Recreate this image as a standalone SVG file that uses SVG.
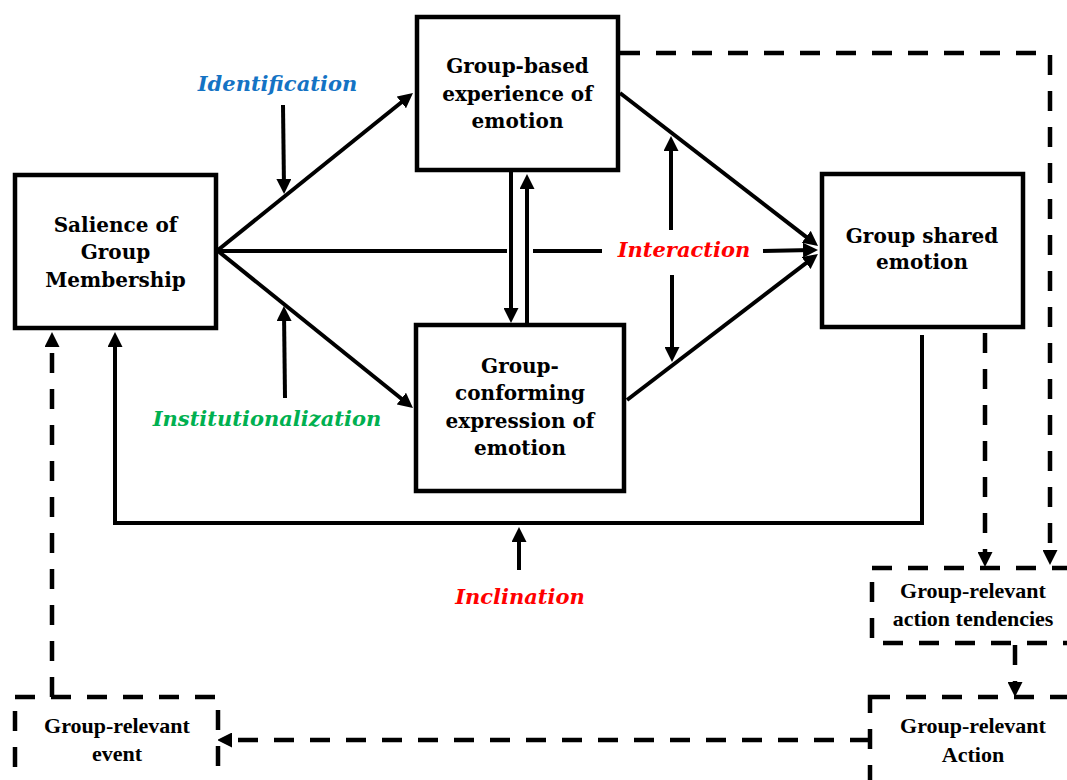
<svg xmlns="http://www.w3.org/2000/svg" width="1067" height="780" viewBox="0 0 1067 780">
  <style>
    .box { fill: #fff; stroke: #000; stroke-width: 4.5; stroke-linejoin: miter; }
    .dbox { fill: #fff; stroke: #000; stroke-width: 4.5; stroke-dasharray: 20 16; }
    .main { font-family: "DejaVu Serif", "Liberation Serif", serif; font-weight: bold; font-size: 20px; text-anchor: middle; fill: #000; }
    .small { font-family: "Liberation Serif", "Times New Roman", serif; font-weight: bold; font-size: 22px; text-anchor: middle; fill: #000; }
    .lab { font-family: "DejaVu Serif", "Liberation Serif", serif; font-weight: bold; font-style: italic; font-size: 21px; text-anchor: middle; }
    .solid { fill: none; stroke: #000; stroke-width: 4; }
    .dash { fill: none; stroke: #000; stroke-width: 4.5; stroke-dasharray: 20 16; }
  </style>
  <defs>
    <marker id="arrow" viewBox="0 0 15 15" markerWidth="15" markerHeight="15" refX="9" refY="7.5" orient="auto" markerUnits="userSpaceOnUse">
      <path d="M0,0 L15,7.5 L0,15 Z" fill="#000"/>
    </marker>
  </defs>

  <rect width="1067" height="780" fill="#fff"/>

  <!-- connectors -->
  <g id="connectors">
    <!-- salience to the two emotion boxes -->
    <line class="solid" x1="218" y1="250" x2="408.3" y2="96.8" marker-end="url(#arrow)"/>
    <line class="solid" x1="218" y1="251" x2="408.3" y2="404.2" marker-end="url(#arrow)"/>
    <!-- direct path, interrupted at the crossings and the label -->
    <line class="solid" x1="218" y1="251" x2="507" y2="251"/>
    <line class="solid" x1="533" y1="251" x2="602" y2="251"/>
    <line class="solid" x1="763" y1="251" x2="812" y2="250" marker-end="url(#arrow)"/>
    <!-- emotion boxes to shared emotion -->
    <line class="solid" x1="620" y1="93" x2="813.3" y2="242.3" marker-end="url(#arrow)"/>
    <line class="solid" x1="627" y1="400" x2="813.2" y2="257.6" marker-end="url(#arrow)"/>
    <!-- reciprocal arrows between experience and expression -->
    <line class="solid" x1="511" y1="172" x2="511" y2="317" marker-end="url(#arrow)"/>
    <line class="solid" x1="527" y1="323" x2="527" y2="180" marker-end="url(#arrow)"/>
    <!-- interaction moderators -->
    <line class="solid" x1="671" y1="230" x2="671" y2="142" marker-end="url(#arrow)"/>
    <line class="solid" x1="672" y1="275" x2="672" y2="356" marker-end="url(#arrow)"/>
    <!-- identification / institutionalization moderators -->
    <line class="solid" x1="283" y1="105" x2="284" y2="188" marker-end="url(#arrow)"/>
    <line class="solid" x1="285" y1="398" x2="284" y2="312" marker-end="url(#arrow)"/>
    <!-- feedback loop to salience -->
    <polyline class="solid" points="922,335 922,523 115,523 115,338" marker-end="url(#arrow)"/>
    <line class="solid" x1="519" y1="570" x2="519" y2="533" marker-end="url(#arrow)"/>

    <!-- dashed action cycle -->
    <polyline class="dash" points="620,53 1050,53 1050,559" marker-end="url(#arrow)"/>
    <line class="dash" x1="985" y1="333" x2="985" y2="561" marker-end="url(#arrow)"/>
    <line class="dash" x1="1015" y1="645" x2="1015" y2="691" marker-end="url(#arrow)"/>
    <line class="dash" x1="870" y1="740" x2="223" y2="740" marker-end="url(#arrow)"/>
    <line class="dash" x1="52" y1="697" x2="52" y2="338" marker-end="url(#arrow)"/>
  </g>

  <!-- nodes -->
  <g id="salience">
    <rect class="box" x="15" y="175" width="201" height="153"/>
    <text class="main" x="115.5" y="232">Salience of</text>
    <text class="main" x="115.5" y="259">Group</text>
    <text class="main" x="115.5" y="287">Membership</text>
  </g>
  <g id="group-based">
    <rect class="box" x="417" y="17" width="201" height="153"/>
    <text class="main" x="517.5" y="73">Group-based</text>
    <text class="main" x="517.5" y="101">experience of</text>
    <text class="main" x="517.5" y="128">emotion</text>
  </g>
  <g id="group-conforming">
    <rect class="box" x="416" y="325" width="208" height="166"/>
    <text class="main" x="520" y="373">Group-</text>
    <text class="main" x="520" y="400">conforming</text>
    <text class="main" x="520" y="428">expression of</text>
    <text class="main" x="520" y="455">emotion</text>
  </g>
  <g id="shared">
    <rect class="box" x="822" y="174" width="201" height="153"/>
    <text class="main" x="922" y="243">Group shared</text>
    <text class="main" x="922" y="269">emotion</text>
  </g>
  <g id="tendencies">
    <rect class="dbox" x="872" y="568" width="230" height="75"/>
    <text class="small" x="973" y="598">Group-relevant</text>
    <text class="small" x="973" y="626">action tendencies</text>
  </g>
  <g id="action">
    <rect class="dbox" x="870" y="697" width="230" height="120"/>
    <text class="small" x="973" y="733">Group-relevant</text>
    <text class="small" x="973" y="762">Action</text>
  </g>
  <g id="event">
    <rect class="dbox" x="15" y="697" width="203" height="120"/>
    <text class="small" x="117" y="733">Group-relevant</text>
    <text class="small" x="117" y="761">event</text>
  </g>

  <!-- moderator labels -->
  <g id="labels">
    <text class="lab" x="277.5" y="91" fill="#1473C4">Identification</text>
    <text class="lab" x="267" y="426" fill="#00B050">Institutionalization</text>
    <text class="lab" x="684" y="257" fill="#FF0000">Interaction</text>
    <text class="lab" x="520" y="604" fill="#FF0000">Inclination</text>
  </g>
</svg>
